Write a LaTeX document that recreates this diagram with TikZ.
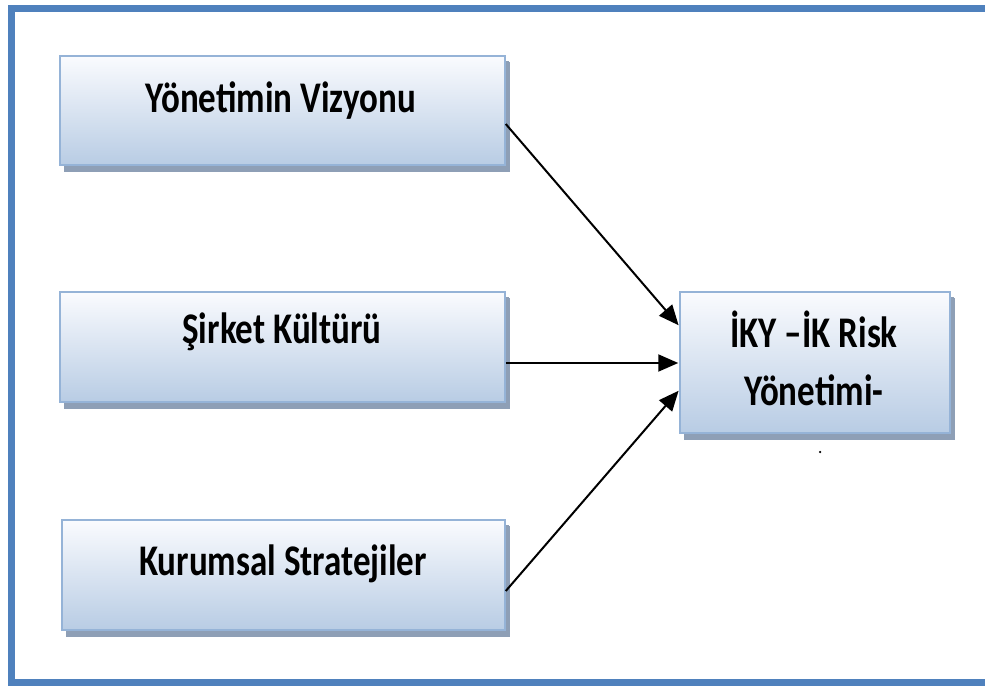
\documentclass[tikz,border=0pt]{standalone}
\usepackage{fontspec}
\setmainfont{Carlito}
\usetikzlibrary{arrows.meta}
\definecolor{framebl}{HTML}{4F81BD}
\definecolor{boxedge}{HTML}{95B3D7}
\definecolor{boxtop}{HTML}{FAFBFE}
\definecolor{boxbot}{HTML}{B8CCE4}
\definecolor{shadowc}{HTML}{8E9FB6}
\tikzset{
  x=1pt, y=-1pt,
  blockbox/.style={draw=boxedge, line width=1.5pt, top color=boxtop, bottom color=boxbot,
    rectangle, inner sep=0pt},
  blocktext/.style={font=\bfseries\fontsize{35}{40}\selectfont, inner sep=0pt, anchor=base},
  link/.style={line width=2pt, -{Triangle[length=20pt, width=17pt]}, shorten >=1pt},
}
\newcommand{\blockshadow}[4]{%
  \fill[shadowc] (#1+4,#2+5) rectangle (#3+4,#4+7);%
  \fill[shadowc] (#3,#2+6) rectangle (#3+5,#4+7);}
\newcommand{\tall}[1]{\scalebox{1}[1.25]{#1}}
\begin{document}
\begin{tikzpicture}
\useasboundingbox (0,0) rectangle (985,688);
% outer frame
\draw[framebl, line width=7pt] (11.5,8) rectangle (995,682);
% shadows under the boxes
\blockshadow{60}{56}{505}{165}
\blockshadow{60}{292}{505}{402}
\blockshadow{62}{520}{505}{630}
\blockshadow{680}{292}{950}{433}
% boxes
\node[blockbox, minimum width=445pt, minimum height=109pt] (vis) at (282.5,110.5) {};
\node[blockbox, minimum width=445pt, minimum height=110pt] (cul) at (282.5,347) {};
\node[blockbox, minimum width=443pt, minimum height=110pt] (str) at (283.5,575) {};
\node[blockbox, minimum width=270pt, minimum height=141pt] (hrm) at (815,362.5) {};
% labels
\node[blocktext] (visT) at (281,112) {\tall{Yönetimin Vizyonu}};
\node[blocktext] (culT) at (282,343) {\tall{Şirket Kültürü}};
\node[blocktext] (strT) at (283,575) {\tall{Kurumsal Stratejiler}};
\node[blocktext] (hrmT1) at (814,347) {\tall{İKY –İK Risk}};
\node[blocktext] (hrmT2) at (814,405) {\tall{Yönetimi-}};
\node[fill=black, circle, inner sep=0pt, minimum size=2.5pt] (dot) at (820,452) {};
% connectors
\coordinate (a1) at (vis.east |- 0,124);
\coordinate (a2) at (cul.east |- 0,363);
\coordinate (a3) at (str.east |- 0,591);
\coordinate (b1) at (hrm.west |- 0,326);
\coordinate (b2) at (hrm.west |- 0,363);
\coordinate (b3) at (hrm.west |- 0,390);
\draw[link] (a1) -- (b1);
\draw[link] (a2) -- (b2);
\draw[link] (a3) -- (b3);
\end{tikzpicture}
\end{document}
